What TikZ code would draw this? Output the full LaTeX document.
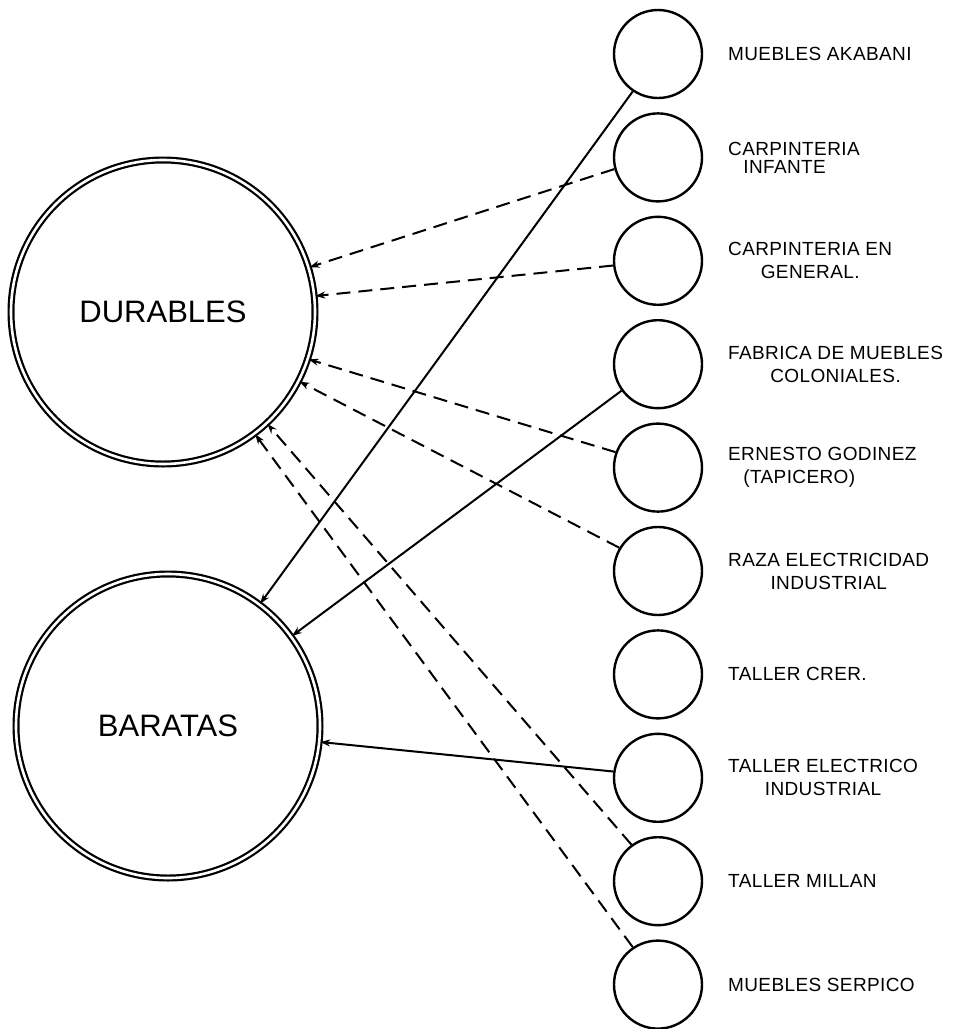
\documentclass[tikz,border=0pt]{standalone}
\usepackage{fontspec}
\setmainfont{Liberation Sans}
\newfontfamily\lblfont{Liberation Sans}[LetterSpace=2]
\usetikzlibrary{arrows.meta,positioning}

\begin{document}
\begin{tikzpicture}[
		x=0.5pt, y=-0.5pt,
		node distance=6.5pt,
		line width=1pt,
		bigcirc/.style={circle, draw, double, double distance=1.3pt, line width=1.1pt, minimum size=152pt, inner sep=0pt, font=\fontsize{15.5}{18}\selectfont},
		firm/.style={circle, draw, line width=1.2pt, minimum size=44pt, inner sep=0pt},
		lbl/.style={inner sep=0pt, align=center, font=\lblfont\fontsize{9.5}{11.5}\selectfont},
		durlink/.style={-{Stealth[length=5pt,width=3.5pt]}, dash pattern=on 7pt off 4pt},
		barlink/.style={-{Stealth[length=5pt,width=3.5pt]}}
	]
		\useasboundingbox (0,0) rectangle (965,1029);

		\node[bigcirc] (Durables) at (163,312) {DURABLES};
		\node[bigcirc] (Baratas) at (168,726) {BARATAS};

		\node[firm] (Akabani) at (658,54) {};
		\node[firm, below=of Akabani] (Infante) {};
		\node[firm, below=of Infante] (General) {};
		\node[firm, below=of General] (Coloniales) {};
		\node[firm, below=of Coloniales] (Godinez) {};
		\node[firm, below=of Godinez] (Raza) {};
		\node[firm, below=of Raza] (Crer) {};
		\node[firm, below=of Crer] (Electrico) {};
		\node[firm, below=of Electrico] (Millan) {};
		\node[firm, below=of Millan] (Serpico) {};

		\node[lbl, right=12pt of Akabani] (AkabaniLbl) {MUEBLES AKABANI};
		\node[lbl, align=left, right=12pt of Infante] (InfanteLbl) {CARPINTERIA\\[-2.5pt]\hspace*{0.8em}INFANTE};
		\node[lbl, right=12pt of General] (GeneralLbl) {CARPINTERIA EN\\GENERAL.};
		\node[lbl, right=12pt of Coloniales] (ColonialesLbl) {FABRICA DE MUEBLES\\COLONIALES.};
		\node[lbl, align=left, right=12pt of Godinez] (GodinezLbl) {ERNESTO GODINEZ\\\hspace*{0.8em}(TAPICERO)};
		\node[lbl, right=12pt of Raza] (RazaLbl) {RAZA ELECTRICIDAD\\INDUSTRIAL};
		\node[lbl, right=12pt of Crer] (CrerLbl) {TALLER CRER.};
		\node[lbl, right=12pt of Electrico] (ElectricoLbl) {TALLER ELECTRICO\\INDUSTRIAL};
		\node[lbl, right=12pt of Millan] (MillanLbl) {TALLER MILLAN};
		\node[lbl, right=12pt of Serpico] (SerpicoLbl) {MUEBLES SERPICO};

		\draw[barlink] (Akabani.236) -- (Baratas.53.6);
		\draw[durlink] (Infante.195) -- (Durables.17.5);
		\draw[durlink] (General.186) -- (Durables.6.4);
		\draw[barlink] (Coloniales.216) -- (Baratas.36);
		\draw[durlink] (Godinez.160) -- (Durables.342.3);
		\draw[durlink] (Raza.149) -- (Durables.333.3);
		\draw[barlink] (Electrico.172) -- (Baratas.354.4);
		\draw[durlink] (Millan.126) -- (Durables.313);
		\draw[durlink] (Serpico.124) -- (Durables.307.4);

	\end{tikzpicture}
\end{document}
